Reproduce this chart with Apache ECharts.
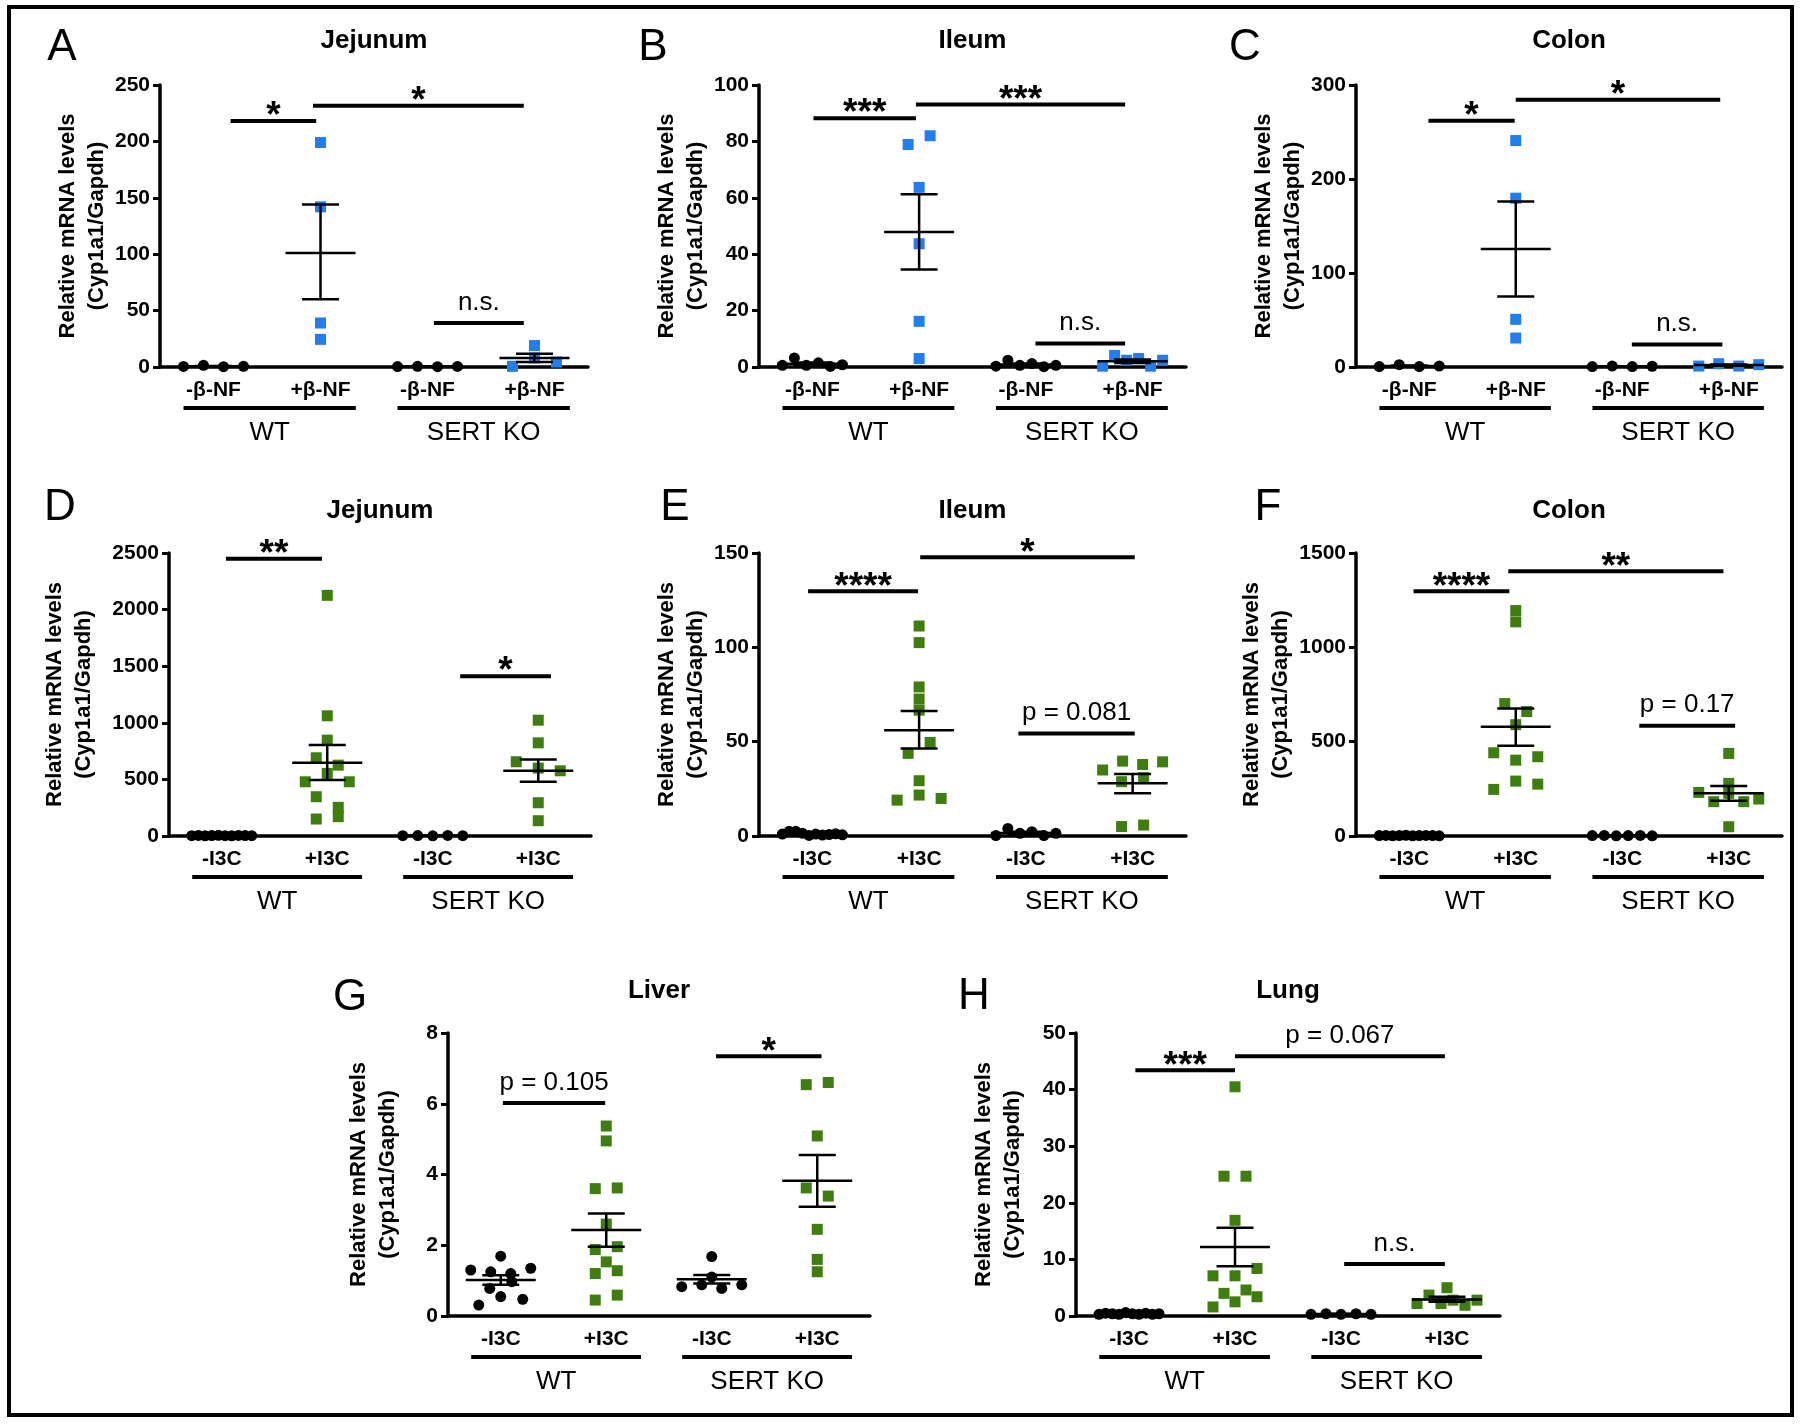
<!DOCTYPE html>
<html><head><meta charset="utf-8">
<script src="https://cdn.jsdelivr.net/npm/echarts@6/dist/echarts.min.js"></script>
<style>html,body{margin:0;padding:0;background:#fff}#c{width:1800px;height:1425px}</style>
</head><body><div id="c"></div>
<script>
// ---------------- categories / labels ----------------
const bnfCats = ['-β-NF', '+β-NF', '-β-NF', '+β-NF'];
const i3cCats = ['-I3C', '+I3C', '-I3C', '+I3C'];
const genotypes = ['WT', 'SERT KO'];
const yName = 'Relative mRNA levels\n(Cyp1a1/Gapdh)';

// ---------------- A: Jejunum, beta-NF ----------------
const A_yAxis = [0, 250, 50];
const A_wt_neg = [0.5, 1.5, 0.3, 0.6];
const A_wt_pos = [199, 142, 39, 24.5];
const A_ko_neg = [0.4, 0.6, 0.3, 0.5];
const A_ko_pos = [0.6, 19, 8, 4.4];
const A_mean = [0.7, 101, 0.45, 8];
const A_semLo = [0.5, 60, 0.4, 4.4];
const A_semHi = [0.9, 144, 0.5, 11.8];
const A_sig = [[0.16, 0.96, 218, '*'], [0.93, 2.90, 231.7, '*'], [2.06, 2.90, 39, 'n.s.']];

// ---------------- B: Ileum, beta-NF ----------------
const B_yAxis = [0, 100, 20];
const B_wt_neg = [0.6, 3.2, 0.6, 1.5, 0.2, 0.8];
const B_wt_pos = [78.9, 82, 63.7, 43.7, 16.2, 3];
const B_ko_neg = [0.3, 2.4, 0.6, 1.2, 0.1, 0.6];
const B_ko_pos = [0.3, 4.1, 2.4, 3.0, 0.3, 2.4];
const B_mean = [1.15, 47.9, 0.87, 2.08];
const B_semLo = [0.65, 34.6, 0.5, 1.4];
const B_semHi = [1.6, 61.3, 1.25, 2.7];
const B_sig = [[0.01, 0.97, 88.2, '***'], [0.97, 2.93, 93.1, '***'], [2.09, 2.93, 8.3, 'n.s.']];

// ---------------- C: Colon, beta-NF ----------------
const C_yAxis = [0, 300, 100];
const C_wt_neg = [0.5, 2.5, 0.5, 1];
const C_wt_pos = [240.9, 179.6, 50.7, 30.8];
const C_ko_neg = [0.5, 1, 0.5, 0.8];
const C_ko_pos = [1, 3.5, 1, 2.5];
const C_mean = [1.1, 125.4, 0.7, 2];
const C_semLo = [0.6, 75, 0.6, 1.4];
const C_semHi = [1.6, 176, 0.8, 2.6];
const C_sig = [[0.18, 0.99, 262, '*'], [1.0, 2.92, 284.4, '*'], [2.09, 2.94, 24, 'n.s.']];

// ---------------- D: Jejunum, I3C ----------------
const D_yAxis = [0, 2500, 500];
const D_wt_neg = [3, 5, 2, 4, 6, 3, 2, 5, 4, 3];
const D_wt_pos = [2126, 1062, 847, 691, 626, 479, 553, 479, 347, 150, 253, 171];
const D_ko_neg = [3, 4, 2, 5, 3];
const D_ko_pos = [1023, 823, 656, 600, 576, 294, 135];
const D_mean = [3.7, 647, 3.4, 576];
const D_semLo = [3.2, 494, 2.8, 479];
const D_semHi = [4.2, 803, 4.0, 676];
const D_sig = [[0.04, 0.95, 2450, '**'], [2.26, 3.12, 1412, '*']];

// ---------------- E: Ileum, I3C ----------------
const E_yAxis = [0, 150, 50];
const E_wt_neg = [1, 2.5, 2.5, 1.5, 0.3, 1, 0.5, 0.8, 1.2, 0.6];
const E_wt_pos = [111.3, 102.5, 79, 66.7, 72.6, 43.8, 49.6, 29.3, 19, 21.7, 19.9];
const E_ko_neg = [0.2, 4, 1.4, 2.3, 0.2, 1.4];
const E_ko_pos = [35, 39.7, 37.9, 39.3, 28.8, 30.9, 5, 5.8];
const E_mean = [1.1, 56.1, 1.6, 27.9];
const E_semLo = [0.8, 46.4, 0.9, 22.6];
const E_semHi = [1.4, 66.2, 2.3, 32.8];
const E_sig = [[-0.04, 0.99, 129.7, '****'], [1.01, 3.02, 147.7, '*'], [1.93, 3.02, 54.3, 'p = 0.081']];

// ---------------- F: Colon, I3C ----------------
const F_yAxis = [0, 1500, 500];
const F_wt_neg = [2, 3, 1, 2, 4, 1, 2, 3, 2, 1];
const F_wt_pos = [1195, 1135, 702, 660, 590, 441, 402, 420, 247, 291, 275];
const F_ko_neg = [2, 3, 1, 2, 3, 1];
const F_ko_pos = [437.6, 279, 231, 182, 226, 182, 196, 49];
const F_mean = [2.1, 579, 2, 226];
const F_semLo = [1.5, 478, 1.5, 187];
const F_semHi = [2.7, 676, 2.5, 265];
const F_sig = [[0.04, 0.94, 1297, '****'], [0.93, 2.95, 1403, '**'], [2.16, 3.06, 584, 'p = 0.17']];

// ---------------- G: Liver, I3C ----------------
const G_yAxis = [0, 8, 2];
const G_wt_neg = [1.30, 1.25, 1.69, 1.20, 1.35, 0.78, 0.97, 0.31, 0.55, 0.47];
const G_wt_pos = [5.37, 4.95, 3.6, 3.62, 2.6, 1.88, 1.96, 1.53, 1.2, 1.28, 0.45, 0.59];
const G_ko_neg = [1.1, 0.83, 0.88, 1.68, 0.78, 0.88];
const G_ko_pos = [6.54, 6.6, 5.09, 3.62, 3.39, 2.45, 1.6, 1.25];
const G_mean = [1.02, 2.43, 1.04, 3.82];
const G_semLo = [0.88, 1.96, 0.92, 3.09];
const G_semHi = [1.15, 2.9, 1.16, 4.55];
const G_sig = [[0.02, 0.99, 6.02, 'p = 0.105'], [2.04, 3.04, 7.34, '*']];

// ---------------- H: Lung, I3C ----------------
const H_yAxis = [0, 50, 10];
const H_wt_neg = [0.3, 0.5, 0.4, 0.3, 0.6, 0.4, 0.3, 0.5, 0.3, 0.4];
const H_wt_pos = [40.5, 24.7, 24.7, 16.9, 7.1, 7.1, 8.4, 4, 4.6, 1.6, 2.5, 3.4];
const H_ko_neg = [0.3, 0.4, 0.3, 0.4, 0.3];
const H_ko_pos = [2.2, 3.7, 5, 2.2, 2.8, 1.9, 2.8];
const H_mean = [0.4, 12.2, 0.35, 2.9];
const H_semLo = [0.35, 8.8, 0.3, 2.5];
const H_semHi = [0.45, 15.6, 0.4, 3.4];
const H_sig = [[0.06, 1.0, 43.4, '***'], [1.0, 2.98, 45.9, 'p = 0.067'], [2.03, 2.98, 9.2, 'n.s.']];

// ---------------- styling / layout ----------------
const FONT = "'Liberation Sans', Arial, Helvetica, sans-serif";
const BLUE = '#1f7ff2';
const GREEN = '#3e7e0e';
const ROW_PX = 11, MAX_GAP = 22, MAX_W = 60, SYM = 11;

const panels = [
  {letter: 'A', title: 'Jejunum', cats: bnfCats, box: [160, 85, 428, 282], y: A_yAxis, nameGap: 74, color: BLUE, lxy: [62, 48], ty: 41,
   g: [A_wt_neg, A_wt_pos, A_ko_neg, A_ko_pos], mean: A_mean, lo: A_semLo, hi: A_semHi, sig: A_sig},
  {letter: 'B', title: 'Ileum', cats: bnfCats, box: [759, 85, 427, 282], y: B_yAxis, nameGap: 78, color: BLUE, lxy: [653, 48], ty: 41,
   g: [B_wt_neg, B_wt_pos, B_ko_neg, B_ko_pos], mean: B_mean, lo: B_semLo, hi: B_semHi, sig: B_sig},
  {letter: 'C', title: 'Colon', cats: bnfCats, box: [1356, 85, 426, 282], y: C_yAxis, nameGap: 75, color: BLUE, lxy: [1245, 48], ty: 41,
   g: [C_wt_neg, C_wt_pos, C_ko_neg, C_ko_pos], mean: C_mean, lo: C_semLo, hi: C_semHi, sig: C_sig},
  {letter: 'D', title: 'Jejunum', cats: i3cCats, box: [169, 553, 422, 283], y: D_yAxis, nameGap: 100, color: GREEN, lxy: [60, 508], ty: 511,
   g: [D_wt_neg, D_wt_pos, D_ko_neg, D_ko_pos], mean: D_mean, lo: D_semLo, hi: D_semHi, sig: D_sig},
  {letter: 'E', title: 'Ileum', cats: i3cCats, box: [759, 553, 427, 283], y: E_yAxis, nameGap: 77, color: GREEN, lxy: [675, 508], ty: 511,
   g: [E_wt_neg, E_wt_pos, E_ko_neg, E_ko_pos], mean: E_mean, lo: E_semLo, hi: E_semHi, sig: E_sig},
  {letter: 'F', title: 'Colon', cats: i3cCats, box: [1356, 553, 426, 283], y: F_yAxis, nameGap: 87, color: GREEN, lxy: [1268, 508], ty: 511,
   g: [F_wt_neg, F_wt_pos, F_ko_neg, F_ko_pos], mean: F_mean, lo: F_semLo, hi: F_semHi, sig: F_sig},
  {letter: 'G', title: 'Liver', cats: i3cCats, box: [448, 1033, 422, 283], y: G_yAxis, nameGap: 75, color: GREEN, lxy: [350, 998], ty: 991,
   g: [G_wt_neg, G_wt_pos, G_ko_neg, G_ko_pos], mean: G_mean, lo: G_semLo, hi: G_semHi, sig: G_sig},
  {letter: 'H', title: 'Lung', cats: i3cCats, box: [1076, 1033, 424, 283], y: H_yAxis, nameGap: 78, color: GREEN, lxy: [974, 997], ty: 991,
   g: [H_wt_neg, H_wt_pos, H_ko_neg, H_ko_pos], mean: H_mean, lo: H_semLo, hi: H_semHi, sig: H_sig}
];

// Prism-like column scatter: points whose values overlap on screen share a row, spread sideways
function swarm(values, cat, p) {
  const py = p.box[3] / (p.y[1] - p.y[0]);
  const ux = p.box[2] / 4;
  const order = values.map((v, i) => i).sort((a, b) => values[a] - values[b]);
  const rows = []; let cur = null;
  order.forEach(i => {
    if (cur && (values[i] - values[cur[0]]) * py < ROW_PX) cur.push(i);
    else { cur = [i]; rows.push(cur); }
  });
  const out = [];
  rows.forEach(r => {
    r.sort((a, b) => a - b);
    const n = r.length;
    const s = n > 1 ? Math.min(MAX_GAP, MAX_W / (n - 1)) : 0;
    r.forEach((i, k) => out.push([cat + (k - (n - 1) / 2) * s / ux, values[i]]));
  });
  return out;
}

const grid = [], xAxis = [], yAxis = [], series = [], graphic = [];
graphic.push({type: 'rect', shape: {x: 9, y: 7, width: 1783, height: 1408}, style: {fill: 'none', stroke: '#000', lineWidth: 4}, z: 10});

panels.forEach((p, i) => {
  const [l, t, w, h] = p.box;
  grid.push({left: l, top: t, width: w, height: h});
  xAxis.push({type: 'category', gridIndex: i, data: p.cats, boundaryGap: true,
    axisLine: {onZero: false, lineStyle: {color: '#000', width: 3.5}},
    axisTick: {alignWithLabel: true, length: 7, lineStyle: {color: '#000', width: 3}},
    axisLabel: {interval: 0, margin: 13, color: '#000', fontFamily: FONT, fontWeight: 'bold', fontSize: 21},
    splitLine: {show: false}});
  xAxis.push({type: 'value', gridIndex: i, min: -0.5, max: 3.5, show: false});
  yAxis.push({type: 'value', gridIndex: i, min: p.y[0], max: p.y[1], interval: p.y[2],
    name: yName, nameLocation: 'middle', nameGap: p.nameGap,
    nameTextStyle: {fontFamily: FONT, fontWeight: 'bold', fontSize: 22, lineHeight: 29, color: '#000', verticalAlign: 'middle'},
    axisLine: {show: true, onZero: false, lineStyle: {color: '#000', width: 3.5}},
    axisTick: {show: true, length: 7, lineStyle: {color: '#000', width: 3}},
    axisLabel: {margin: 10, color: '#000', fontFamily: FONT, fontWeight: 'bold', fontSize: 21, formatter: v => String(v)},
    splitLine: {show: false}});
  const xi = 2 * i + 1;
  series.push({type: 'scatter', xAxisIndex: xi, yAxisIndex: i, symbol: 'circle', symbolSize: SYM, z: 3,
    itemStyle: {color: '#000', opacity: 1}, emphasis: {disabled: true},
    data: swarm(p.g[0], 0, p).concat(swarm(p.g[2], 2, p))});
  series.push({type: 'scatter', xAxisIndex: xi, yAxisIndex: i, symbol: 'rect', symbolSize: SYM, z: 3,
    itemStyle: {color: p.color, opacity: 1}, emphasis: {disabled: true},
    data: swarm(p.g[1], 1, p).concat(swarm(p.g[3], 3, p))});
  // mean +/- SEM
  series.push({type: 'custom', xAxisIndex: xi, yAxisIndex: i, z: 4, clip: false,
    encode: {x: 0, y: [1, 2, 3]},
    data: [0, 1, 2, 3].map(c => [c, p.mean[c], p.lo[c], p.hi[c]]),
    renderItem: (params, api) => {
      const x = api.value(0);
      const pm = api.coord([x, api.value(1)]), pl = api.coord([x, api.value(2)]), ph = api.coord([x, api.value(3)]);
      const st = {stroke: '#000', lineWidth: 2.5};
      return {type: 'group', children: [
        {type: 'line', shape: {x1: pm[0] - 35, y1: pm[1], x2: pm[0] + 35, y2: pm[1]}, style: st},
        {type: 'line', shape: {x1: pm[0], y1: pl[1], x2: pm[0], y2: ph[1]}, style: st},
        {type: 'line', shape: {x1: pm[0] - 18.5, y1: pl[1], x2: pm[0] + 18.5, y2: pl[1]}, style: st},
        {type: 'line', shape: {x1: pm[0] - 18.5, y1: ph[1], x2: pm[0] + 18.5, y2: ph[1]}, style: st}
      ]};
    }});
  // significance brackets
  series.push({type: 'custom', xAxisIndex: xi, yAxisIndex: i, z: 4, clip: false,
    encode: {x: [0, 1], y: 2},
    data: p.sig.map(s => [s[0], s[1], s[2]]),
    renderItem: (params, api) => {
      const a = api.coord([api.value(0), api.value(2)]), b = api.coord([api.value(1), api.value(2)]);
      const label = p.sig[params.dataIndex][3];
      const star = label[0] === '*';
      return {type: 'group', children: [
        {type: 'line', shape: {x1: a[0], y1: a[1], x2: b[0], y2: b[1]}, style: {stroke: '#000', lineWidth: 4}},
        {type: 'text', style: {text: label, x: (a[0] + b[0]) / 2, y: a[1] - (star ? 4 : 20.5),
          align: 'center', verticalAlign: 'middle', fill: '#000', fontFamily: FONT,
          fontWeight: star ? 'bold' : 'normal', fontSize: star ? 37 : 26}}
      ]};
    }});
  // genotype group lines and labels
  series.push({type: 'custom', xAxisIndex: xi, yAxisIndex: i, z: 4, clip: false,
    encode: {x: [0, 1], y: 2},
    data: [[0, 1, 0], [2, 3, 0]],
    renderItem: (params, api) => {
      const a = api.coord([api.value(0) - 0.28, api.value(2)]), b = api.coord([api.value(1) + 0.33, api.value(2)]);
      return {type: 'group', children: [
        {type: 'line', shape: {x1: a[0], y1: a[1] + 41, x2: b[0], y2: a[1] + 41}, style: {stroke: '#000', lineWidth: 4}},
        {type: 'text', style: {text: genotypes[params.dataIndex], x: (a[0] + b[0]) / 2, y: a[1] + 66,
          align: 'center', verticalAlign: 'middle', fill: '#000', fontFamily: FONT, fontSize: 26}}
      ]};
    }});
  // panel letter and title
  graphic.push({type: 'text', x: p.lxy[0], y: p.lxy[1], style: {text: p.letter, font: '44px ' + FONT, fill: '#000',
    align: 'center', verticalAlign: 'middle', textAlign: 'center', textVerticalAlign: 'middle'}});
  graphic.push({type: 'text', x: l + w / 2, y: p.ty, style: {text: p.title, font: 'bold 26px ' + FONT, fill: '#000',
    align: 'center', verticalAlign: 'middle', textAlign: 'center', textVerticalAlign: 'middle'}});
});

const chart = echarts.init(document.getElementById('c'), null, {renderer: 'canvas'});
chart.setOption({animation: false, backgroundColor: '#fff', grid, xAxis, yAxis, series, graphic});
</script></body></html>
